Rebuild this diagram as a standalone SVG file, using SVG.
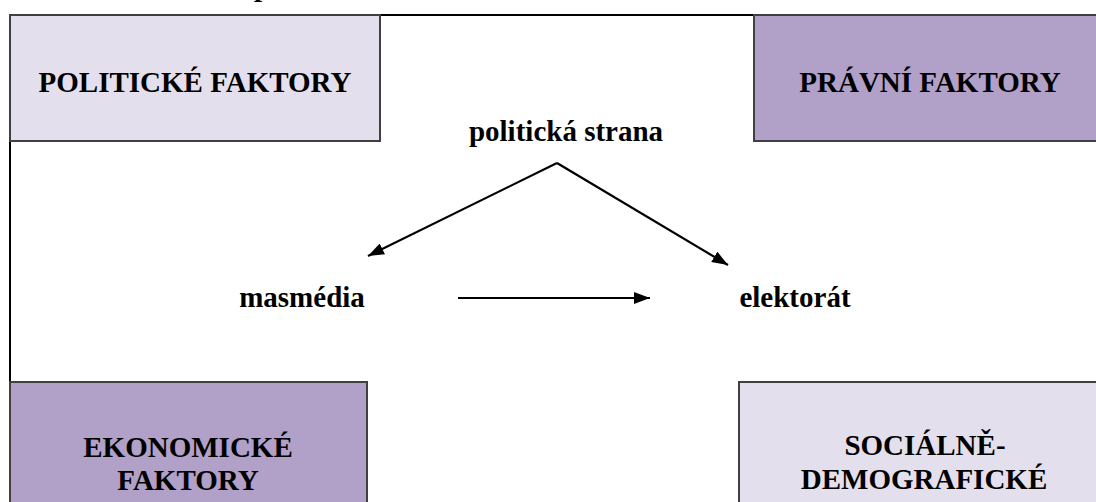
<svg xmlns="http://www.w3.org/2000/svg" width="1096" height="502" viewBox="0 0 1096 502">
<style>
.light{fill:#E4DFEC;stroke:#404040;stroke-width:2}
.dark{fill:#B1A0C7;stroke:#404040;stroke-width:2}
.t{font-family:"Liberation Serif","Times New Roman",serif;font-weight:bold;font-size:29px;fill:#000;text-anchor:middle}
.c{stroke:#000;stroke-width:2.2;fill:none}
</style>
<defs>
<marker id="ah" viewBox="0 0 16 12" refX="16" refY="6" markerWidth="16" markerHeight="12" markerUnits="userSpaceOnUse" orient="auto">
<path d="M0,0 L16,6 L0,12 z" fill="#000"/>
</marker>
</defs>
<rect width="1096" height="502" fill="#fff"/>
<text class="t" x="262" y="-4">p</text>
<g id="frame">
<path d="M10,502 L10,15 L1096,15" stroke="#000" stroke-width="2" fill="none"/>
</g>
<g id="politicke">
<rect class="light" x="10" y="15" width="370" height="126"/>
<text class="t" x="195" y="92">POLITICKÉ FAKTORY</text>
</g>
<g id="pravni">
<rect class="dark" x="754" y="15" width="352" height="126"/>
<text class="t" x="930" y="92">PRÁVNÍ FAKTORY</text>
</g>
<g id="ekonomicke">
<rect class="dark" x="10" y="382" width="357" height="130"/>
<text class="t" x="188" y="457">EKONOMICKÉ</text>
<text class="t" x="188" y="490">FAKTORY</text>
</g>
<g id="socialne">
<rect class="light" x="739" y="382" width="367" height="130"/>
<text class="t" x="925" y="455">SOCIÁLNĚ-</text>
<text class="t" x="924" y="489">DEMOGRAFICKÉ</text>
</g>
<g id="strana"><text class="t" x="566" y="141">politická strana</text></g>
<g id="masmedia"><text class="t" x="302" y="307">masmédia</text></g>
<g id="elektorat"><text class="t" x="795" y="307">elektorát</text></g>
<g id="connectors">
<line class="c" x1="557" y1="163" x2="368" y2="256" marker-end="url(#ah)"/>
<line class="c" x1="557" y1="163" x2="728" y2="265" marker-end="url(#ah)"/>
<line class="c" x1="458" y1="298" x2="650" y2="298" marker-end="url(#ah)"/>
</g>
</svg>
